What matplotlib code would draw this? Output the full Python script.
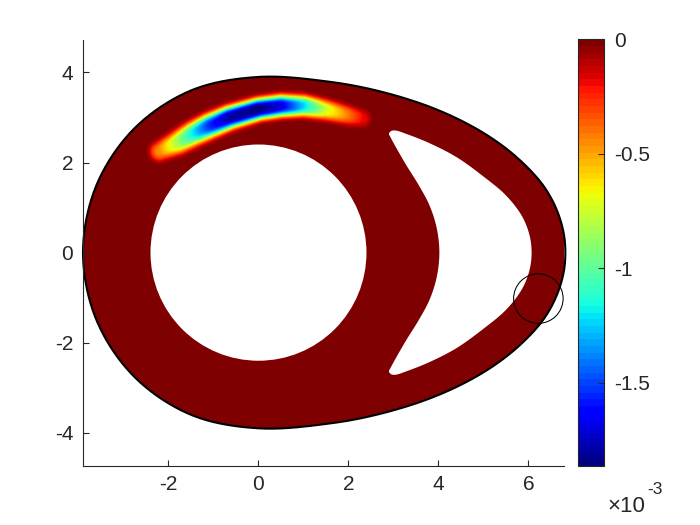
import numpy as np
import matplotlib
matplotlib.use('Agg')
import matplotlib.pyplot as plt
from matplotlib.path import Path
from matplotlib.patches import PathPatch, Circle, Polygon

plt.rcParams['font.family'] = ['Liberation Sans', 'DejaVu Sans']

# ---------------- data ----------------
# outer boundary, upper half (mirrored for the lower half)
outer_upper_x = [-3.9, -3.603, -2.758, -1.492, 0.0, 1.6, 2.7, 3.8, 4.7, 5.4, 5.95, 6.35, 6.62, 6.78, 6.82]
outer_upper_y = [0.0, 1.492, 2.758, 3.603, 3.9, 3.79, 3.58, 3.24, 2.83, 2.39, 1.92, 1.46, 0.97, 0.45, 0.0]
# crescent hole, upper half (mirrored)
cres_upper_x = [4.02, 3.96, 3.80, 3.56, 3.28, 3.06, 2.94, 2.90, 2.95, 3.05, 3.3, 3.8, 4.4, 5.0, 5.5, 5.85, 6.02, 6.07]
cres_upper_y = [0.0, 0.55, 1.05, 1.5, 1.95, 2.33, 2.55, 2.64, 2.70, 2.71, 2.63, 2.43, 2.12, 1.69, 1.27, 0.82, 0.4, 0.0]
# circular hole
hole_center = (0.0, 0.0)
hole_radius = 2.4
# marker circle
marker_center = (6.22, -1.02)
marker_radius = 0.55
# negative band: centerline, depth (x1e-3) and half-width
band_x = [-2.2, -1.8, -1.45, -1.1, -0.65, 0.0, 0.5, 1.0, 1.5, 1.95, 2.3]
band_y = [2.24, 2.43, 2.63, 2.80, 2.99, 3.18, 3.25, 3.25, 3.16, 3.05, 2.97]
band_depth = [-0.45, -0.85, -1.2, -1.55, -1.8, -1.864, -1.7, -1.25, -0.75, -0.45, -0.2]
band_width = [0.21, 0.24, 0.25, 0.25, 0.24, 0.23, 0.23, 0.22, 0.21, 0.2, 0.19]
cmin, cmax = -1.864e-3, 0.0
xticks = [-2, 0, 2, 4, 6]
yticks = [-4, -2, 0, 2, 4]
cticks = [-1.5e-3, -1.0e-3, -0.5e-3, 0.0]
cticklabels = ['-1.5', '-1', '-0.5', '0']


def cr_closed(px, py, n=30, alpha=0.5):
    P = np.column_stack([px, py]).astype(float)
    N = len(P)
    out = []
    for i in range(N):
        p0, p1, p2, p3 = P[i - 1], P[i], P[(i + 1) % N], P[(i + 2) % N]
        t0 = 0.0
        t1 = t0 + np.linalg.norm(p1 - p0) ** alpha
        t2 = t1 + np.linalg.norm(p2 - p1) ** alpha
        t3 = t2 + np.linalg.norm(p3 - p2) ** alpha
        t = np.linspace(t1, t2, n, endpoint=False)[:, None]
        A1 = (t1 - t) / (t1 - t0) * p0 + (t - t0) / (t1 - t0) * p1
        A2 = (t2 - t) / (t2 - t1) * p1 + (t - t1) / (t2 - t1) * p2
        A3 = (t3 - t) / (t3 - t2) * p2 + (t - t2) / (t3 - t2) * p3
        B1 = (t2 - t) / (t2 - t0) * A1 + (t - t0) / (t2 - t0) * A2
        B2 = (t3 - t) / (t3 - t1) * A2 + (t - t1) / (t3 - t1) * A3
        out.append((t2 - t) / (t2 - t1) * B1 + (t - t1) / (t2 - t1) * B2)
    C = np.vstack(out)
    return np.vstack([C, C[:1]])


def mirror_loop(ux, uy):
    ux = list(ux); uy = list(uy)
    lx = ux[1:-1][::-1]
    ly = [-v for v in uy[1:-1][::-1]]
    return ux + lx, uy + ly


ox, oy = mirror_loop(outer_upper_x, outer_upper_y)
outer = cr_closed(ox, oy)
cx, cy = mirror_loop(cres_upper_x, cres_upper_y)
cres = cr_closed(cx, cy)

# ---------------- field ----------------
gx = np.arange(-3.95, 6.95, 0.01)
gy = np.arange(-4.05, 4.05, 0.01)
GX, GY = np.meshgrid(gx, gy)
F = np.zeros_like(GX)
bx, by = np.array(band_x), np.array(band_y)
s = np.r_[0, np.cumsum(np.hypot(np.diff(bx), np.diff(by)))]
sd = np.linspace(0, s[-1], 300)
cxd = np.interp(sd, s, bx); cyd = np.interp(sd, s, by)
dd = np.interp(sd, s, band_depth); wd = np.interp(sd, s, band_width)
box = (GX > -3.3) & (GX < 3.6) & (GY > 1.2) & (GY < 4.2)
px, py = GX[box], GY[box]
best = np.full(px.shape, np.inf)
bi = np.zeros(px.shape, int)
for k in range(len(sd)):
    d2 = (px - cxd[k]) ** 2 + (py - cyd[k]) ** 2
    m = d2 < best
    best[m] = d2[m]
    bi[m] = k
nd = np.sqrt(best)
F[box] = dd[bi] * 1e-3 * np.exp(-(nd / wd[bi]) ** 3)

# ---------------- figure ----------------
W, H = 700, 525
fig = plt.figure(figsize=(7, 5.25), dpi=100)
ax = fig.add_axes([83 / W, (H - 465.7) / H, 481 / W, 425.7 / H])
cmap = plt.get_cmap('jet', 64)
im = ax.imshow(F, origin='lower', extent=[gx[0] - 0.005, gx[-1] + 0.005, gy[0] - 0.005, gy[-1] + 0.005],
               cmap=cmap, vmin=cmin, vmax=cmax, interpolation='bilinear', aspect='auto', zorder=1)
clip = PathPatch(Path(outer), transform=ax.transData, facecolor='none', edgecolor='none')
ax.add_patch(clip)
im.set_clip_path(clip)
ax.add_patch(Circle(hole_center, hole_radius, facecolor='white', edgecolor='none', zorder=2))
ax.add_patch(Polygon(cres, closed=True, facecolor='white', edgecolor='none', zorder=2))
ax.plot(outer[:, 0], outer[:, 1], color='black', lw=1.5, zorder=3, solid_joinstyle='round', clip_on=False)
ax.add_patch(Circle(marker_center, marker_radius, fill=False, edgecolor='black', lw=0.75, zorder=4,
                    clip_on=False))

ax.set_xlim(-3.9, 6.79)
ax.set_ylim(-4.73, 4.72)
ax.set_xticks(xticks)
ax.set_yticks(yticks)
ax.set_xticklabels([str(v) for v in xticks])
ax.set_yticklabels([str(v) for v in yticks])
for sp in ['top', 'right']:
    ax.spines[sp].set_visible(False)
for sp in ['left', 'bottom']:
    ax.spines[sp].set_color('#262626')
    ax.spines[sp].set_linewidth(0.8)
    ax.spines[sp].set_zorder(5)
ax.tick_params(direction='in', length=4, width=0.8, colors='#262626', labelsize=15, pad=7)

cax = fig.add_axes([578.3 / W, (H - 466) / H, 26 / W, 426.7 / H])
cb = fig.colorbar(im, cax=cax, ticks=cticks)
cb.set_ticklabels(cticklabels)
cb.outline.set_edgecolor('#262626')
cb.outline.set_linewidth(0.8)
cax.tick_params(direction='in', length=4, width=0.8, colors='#262626', labelsize=15, pad=7)
fig.text(607 / W, (H - 511.5) / H, '\u00d710', fontsize=16, color='#262626', ha='left', va='baseline')
fig.text(647 / W, (H - 494) / H, '-3', fontsize=12.5, color='#262626', ha='left', va='baseline')

fig.savefig('out.png', dpi=100)
